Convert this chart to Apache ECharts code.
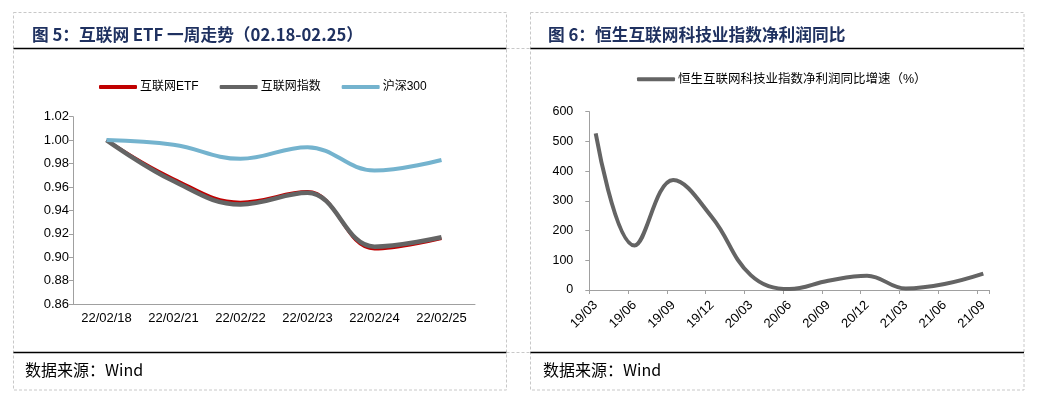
<!DOCTYPE html>
<html>
<head>
<meta charset="utf-8">
<script src="https://cdn.jsdelivr.net/npm/echarts@6/dist/echarts.min.js"></script>
<style>
html,body{margin:0;padding:0;background:#fff;}
#c{width:1040px;height:403px;}
</style>
</head>
<body>
<div id="c"></div>
<script>
// ---- data ----
const etfDays = ['22/02/18','22/02/21','22/02/22','22/02/23','22/02/24','22/02/25'];
const etfValues = [1.000, 0.967, 0.947, 0.956, 0.907, 0.916];
const indexValues = [1.000, 0.965, 0.945, 0.955, 0.909, 0.917];
const hs300Values = [1.000, 0.996, 0.984, 0.994, 0.974, 0.983];

const quarters = ['19/03','19/06','19/09','19/12','20/03','20/06','20/09','20/12','21/03','21/06','21/09'];
const profitGrowth = [527, 150, 370, 245, 50, 3, 31, 48, 5, 20, 55];

const seriesNamesLeft = ['互联网ETF','互联网指数','沪深300'];
const seriesNameRight = '恒生互联网科技业指数净利润同比增速（%）';

const titleLeft = '图 5：互联网 ETF 一周走势（02.18-02.25）';
const titleRight = '图 6：恒生互联网科技业指数净利润同比';
const sourceText = '数据来源：Wind';

// ---- chart ----
const chart = echarts.init(document.getElementById('c'), null, {renderer:'canvas'});
const latin = '"Liberation Sans", Arial, "Noto Sans CJK SC", sans-serif';
const cjk = '"Noto Sans CJK SC", sans-serif';
const axisGray = '#A0A0A0';
const frameGray = '#C8C8C8';

function frame(x, w) {
  return [
    {type:'rect', shape:{x:x, y:12.5, width:w, height:377.5}, style:{fill:null, stroke:frameGray, lineWidth:1, lineDash:[3,2]}, silent:true},
    {type:'line', shape:{x1:x, y1:48.5, x2:x+w, y2:48.5}, style:{stroke:'#000', lineWidth:1.6}, silent:true},
    {type:'line', shape:{x1:x, y1:352.5, x2:x+w, y2:352.5}, style:{stroke:'#000', lineWidth:1.6}, silent:true}
  ];
}

const option = {
  backgroundColor:'#fff',
  animation:false,
  title:[
    {text:titleLeft, left:27, top:21, textStyle:{fontFamily:cjk, fontWeight:'bold', fontSize:16.7, color:'#1F3160'}},
    {text:titleRight, left:543, top:21, textStyle:{fontFamily:cjk, fontWeight:'bold', fontSize:16.7, color:'#1F3160'}}
  ],
  graphic:[
    ...frame(13.5, 493),
    ...frame(530.5, 493.5),
    {type:'line', shape:{x1:506.5, y1:48.5, x2:530.5, y2:48.5}, style:{stroke:frameGray, lineWidth:1, lineDash:[3,2]}, silent:true},
    {type:'line', shape:{x1:506.5, y1:352.5, x2:530.5, y2:352.5}, style:{stroke:frameGray, lineWidth:1, lineDash:[3,2]}, silent:true},
    {type:'text', left:25, top:362, style:{text:sourceText, fontFamily:cjk, fontSize:16, fill:'#000'}},
    {type:'text', left:543, top:362, style:{text:sourceText, fontFamily:cjk, fontSize:16, fill:'#000'}}
  ],
  legend:[
    {data:seriesNamesLeft, left:94, top:76, icon:'roundRect', itemWidth:38, itemHeight:4, itemGap:21,
     textStyle:{fontFamily:latin, fontSize:12, color:'#000', padding:[0,0,0,-2]}},
    {data:[seriesNameRight], left:632, top:68, icon:'roundRect', itemWidth:38, itemHeight:4,
     textStyle:{fontFamily:latin, fontSize:12.5, color:'#000', padding:[0,0,0,-2]}}
  ],
  grid:[
    {left:73, top:116.7, width:402, height:187.3},
    {left:589.3, top:111.7, width:399.7, height:178.3},
    {left:595.7, top:111.7, width:387.6, height:178.3}
  ],
  xAxis:[
    {gridIndex:0, type:'category', data:etfDays, boundaryGap:true,
     axisLine:{lineStyle:{color:axisGray}}, axisTick:{length:5, lineStyle:{color:axisGray}},
     axisLabel:{fontFamily:latin, fontSize:13, color:'#000', margin:8}},
    {gridIndex:1, type:'value', min:0, max:10.31, interval:1,
     axisLine:{show:true, lineStyle:{color:axisGray}}, axisTick:{show:true, length:4, lineStyle:{color:axisGray}},
     axisLabel:{show:false}, splitLine:{show:false}},
    {gridIndex:2, type:'category', data:quarters, boundaryGap:false,
     axisLine:{show:false}, axisTick:{show:false},
     axisLabel:{fontFamily:latin, fontSize:13, color:'#000', rotate:45, margin:13, interval:0}}
  ],
  yAxis:[
    {gridIndex:0, type:'value', min:0.86, max:1.02, interval:0.02,
     axisLine:{show:true, lineStyle:{color:axisGray}}, axisTick:{show:true, length:4, lineStyle:{color:axisGray}},
     splitLine:{show:false},
     axisLabel:{fontFamily:latin, fontSize:13, color:'#000', margin:4, formatter:v=>v.toFixed(2)}},
    {gridIndex:1, type:'value', min:0, max:600, interval:100,
     axisLine:{show:true, lineStyle:{color:axisGray}}, axisTick:{show:true, length:4, lineStyle:{color:axisGray}},
     splitLine:{show:false},
     axisLabel:{fontFamily:latin, fontSize:12.5, color:'#000', margin:16}},
    {gridIndex:2, type:'value', min:0, max:600, interval:100, show:false}
  ],
  series:[
    {name:seriesNamesLeft[0], type:'line', xAxisIndex:0, yAxisIndex:0, data:etfValues, smooth:0.4, symbol:'none',
     color:'#C00000', lineStyle:{width:3, color:'#C00000'}},
    {name:seriesNamesLeft[1], type:'line', xAxisIndex:0, yAxisIndex:0, data:indexValues, smooth:0.4, symbol:'none',
     color:'#646464', lineStyle:{width:4.5, color:'#646464'}},
    {name:seriesNamesLeft[2], type:'line', xAxisIndex:0, yAxisIndex:0, data:hs300Values, smooth:0.4, symbol:'none',
     color:'#74B3CE', lineStyle:{width:4, color:'#74B3CE'}},
    {name:seriesNameRight, type:'line', xAxisIndex:2, yAxisIndex:2, data:profitGrowth, smooth:0.4, symbol:'none',
     color:'#646464', lineStyle:{width:4, color:'#646464'}}
  ]
};
chart.setOption(option);
</script>
</body>
</html>
